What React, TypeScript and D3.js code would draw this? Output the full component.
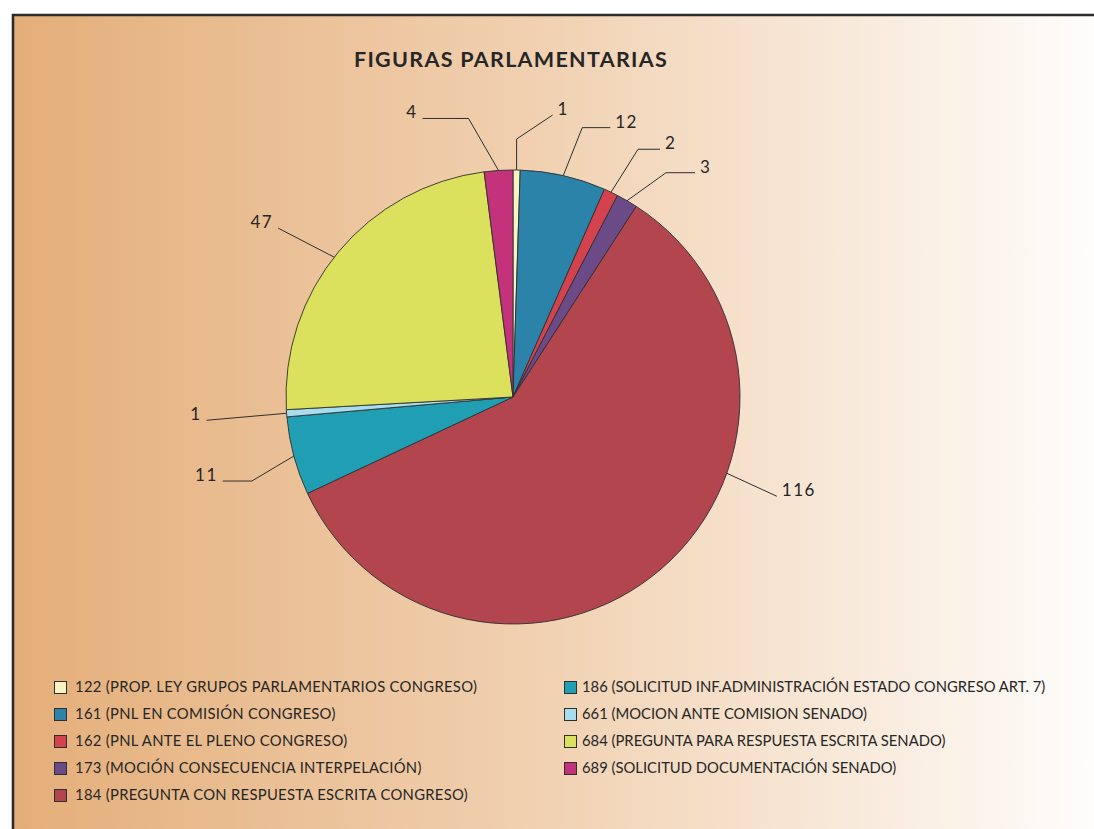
import React, { useEffect, useRef } from "react";
import * as d3 from "d3";

// DATA
const codes = ["122", "161", "162", "173", "184", "186", "661", "684", "689"];
const names = [
  "PROP. LEY GRUPOS PARLAMENTARIOS CONGRESO",
  "PNL EN COMISIÓN CONGRESO",
  "PNL ANTE EL PLENO CONGRESO",
  "MOCIÓN CONSECUENCIA INTERPELACIÓN",
  "PREGUNTA CON RESPUESTA ESCRITA CONGRESO",
  "SOLICITUD INF.ADMINISTRACIÓN ESTADO CONGRESO ART. 7",
  "MOCION ANTE COMISION SENADO",
  "PREGUNTA PARA RESPUESTA ESCRITA SENADO",
  "SOLICITUD DOCUMENTACIÓN SENADO",
];
const values = [1, 12, 2, 3, 116, 11, 1, 47, 4];
const colors = [
  "#f7f3c2",
  "#2b83a9",
  "#d4424e",
  "#6b4a87",
  "#b2454e",
  "#1f9eb4",
  "#a6ddef",
  "#dbe15c",
  "#c3327b",
];
const title = "FIGURAS PARLAMENTARIAS";

// LEADER LINES: where on the slice (0..1), first leg, second leg
const anchorAt = [0.5, 0.5, 0.5, 0.5, 0.362, 0.5, 0.5, 0.48, 0.5];
const leg1 = [[0, -31], [19, -48], [27, -43], [39, -28], [50, 23], [-42, 25], [-80, 7], [-56, -29], [-30, -52]];
const leg2 = [[36, -24], [28, 0], [22, 0], [29, 0], [0, 0], [-29, 0], [0, 0], [0, 0], [-46, 0]];

export default function App() {
  const ref = useRef(null);

  useEffect(() => {
    const W = 1094;
    const H = 829;
    const svg = d3.select(ref.current);
    svg.selectAll("*").remove();

    // BACKGROUND
    const grad = svg
      .append("defs")
      .append("linearGradient")
      .attr("id", "bg")
      .attr("x1", "0%")
      .attr("x2", "100%");
    grad.append("stop").attr("offset", "0%").attr("stop-color", "#e4ae79");
    grad.append("stop").attr("offset", "50%").attr("stop-color", "#f1d2b3");
    grad.append("stop").attr("offset", "100%").attr("stop-color", "#fefdfb");

    svg.append("rect").attr("width", W).attr("height", H).attr("fill", "#fff");
    svg
      .append("rect")
      .attr("x", 13)
      .attr("y", 15)
      .attr("width", W - 13)
      .attr("height", H - 15)
      .attr("fill", "url(#bg)");
    svg
      .append("path")
      .attr("d", `M13,${H} V15 H${W}`)
      .attr("fill", "none")
      .attr("stroke", "#2b2b2b")
      .attr("stroke-width", 2.6);

    // TITLE
    svg
      .append("text")
      .attr("x", 511)
      .attr("y", 67)
      .attr("text-anchor", "middle")
      .attr("font-family", "Lato, sans-serif")
      .attr("font-weight", "bold")
      .attr("font-size", 21.5)
      .attr("letter-spacing", 1.3)
      .attr("fill", "#262626")
      .text(title);

    // PIE
    const cx = 513;
    const cy = 397;
    const r = 227;
    const pie = d3
      .pie()
      .sort(null)
      .value((d) => d);
    const arcs = pie(values);
    const arc = d3.arc().innerRadius(0).outerRadius(r);

    const g = svg.append("g").attr("transform", `translate(${cx},${cy})`);
    g.selectAll("path.slice")
      .data(arcs)
      .join("path")
      .attr("class", "slice")
      .attr("d", arc)
      .attr("fill", (d, i) => colors[i])
      .attr("stroke", "#2f2f2f")
      .attr("stroke-width", 0.9);

    // LABELS
    arcs.forEach((d, i) => {
      const a = d.startAngle + (d.endAngle - d.startAngle) * anchorAt[i];
      const x0 = Math.sin(a) * r;
      const y0 = -Math.cos(a) * r;
      const x1 = x0 + leg1[i][0];
      const y1 = y0 + leg1[i][1];
      const x2 = x1 + leg2[i][0];
      const y2 = y1 + leg2[i][1];
      g.append("path")
        .attr("d", d3.line()([[x0, y0], [x1, y1], [x2, y2]]))
        .attr("fill", "none")
        .attr("stroke", "#2f2f2f")
        .attr("stroke-width", 1);
      const dir = leg2[i][0] !== 0 ? leg2[i][0] : leg1[i][0];
      const right = dir >= 0;
      g.append("text")
        .attr("x", right ? x2 + 5 : x2 - 5)
        .attr("y", y2)
        .attr("text-anchor", right ? "start" : "end")
        .attr("font-family", "Lato, sans-serif")
        .attr("font-size", 17)
        .attr("letter-spacing", 1.5)
        .attr("fill", "#262626")
        .text(values[i]);
    });

    // LEGEND
    const rowY = d3.scaleLinear().domain([0, 1]).range([692, 719]);
    const perCol = 5;
    const colX = [54, 564];
    const leg = svg.append("g");
    codes.forEach((c, i) => {
      const col = Math.floor(i / perCol);
      const row = i % perCol;
      const y = rowY(row);
      leg
        .append("rect")
        .attr("x", colX[col] + 0.5)
        .attr("y", y - 10.5)
        .attr("width", 12)
        .attr("height", 12)
        .attr("fill", colors[i])
        .attr("stroke", "#2f2f2f")
        .attr("stroke-width", 1);
      leg
        .append("text")
        .attr("x", colX[col] + (col === 0 ? 21 : 18))
        .attr("y", y)
        .attr("font-family", "Lato, sans-serif")
        .attr("font-size", 14.8)
        .attr("letter-spacing", col === 0 ? 0.3 : 0)
        .attr("fill", "#262626")
        .text(`${c} (${names[i]})`);
    });
  }, []);

  return (
    <div style={{ position: "absolute", left: 0, top: 0 }}>
      <svg ref={ref} width={1094} height={829} style={{ display: "block" }} />
    </div>
  );
}
